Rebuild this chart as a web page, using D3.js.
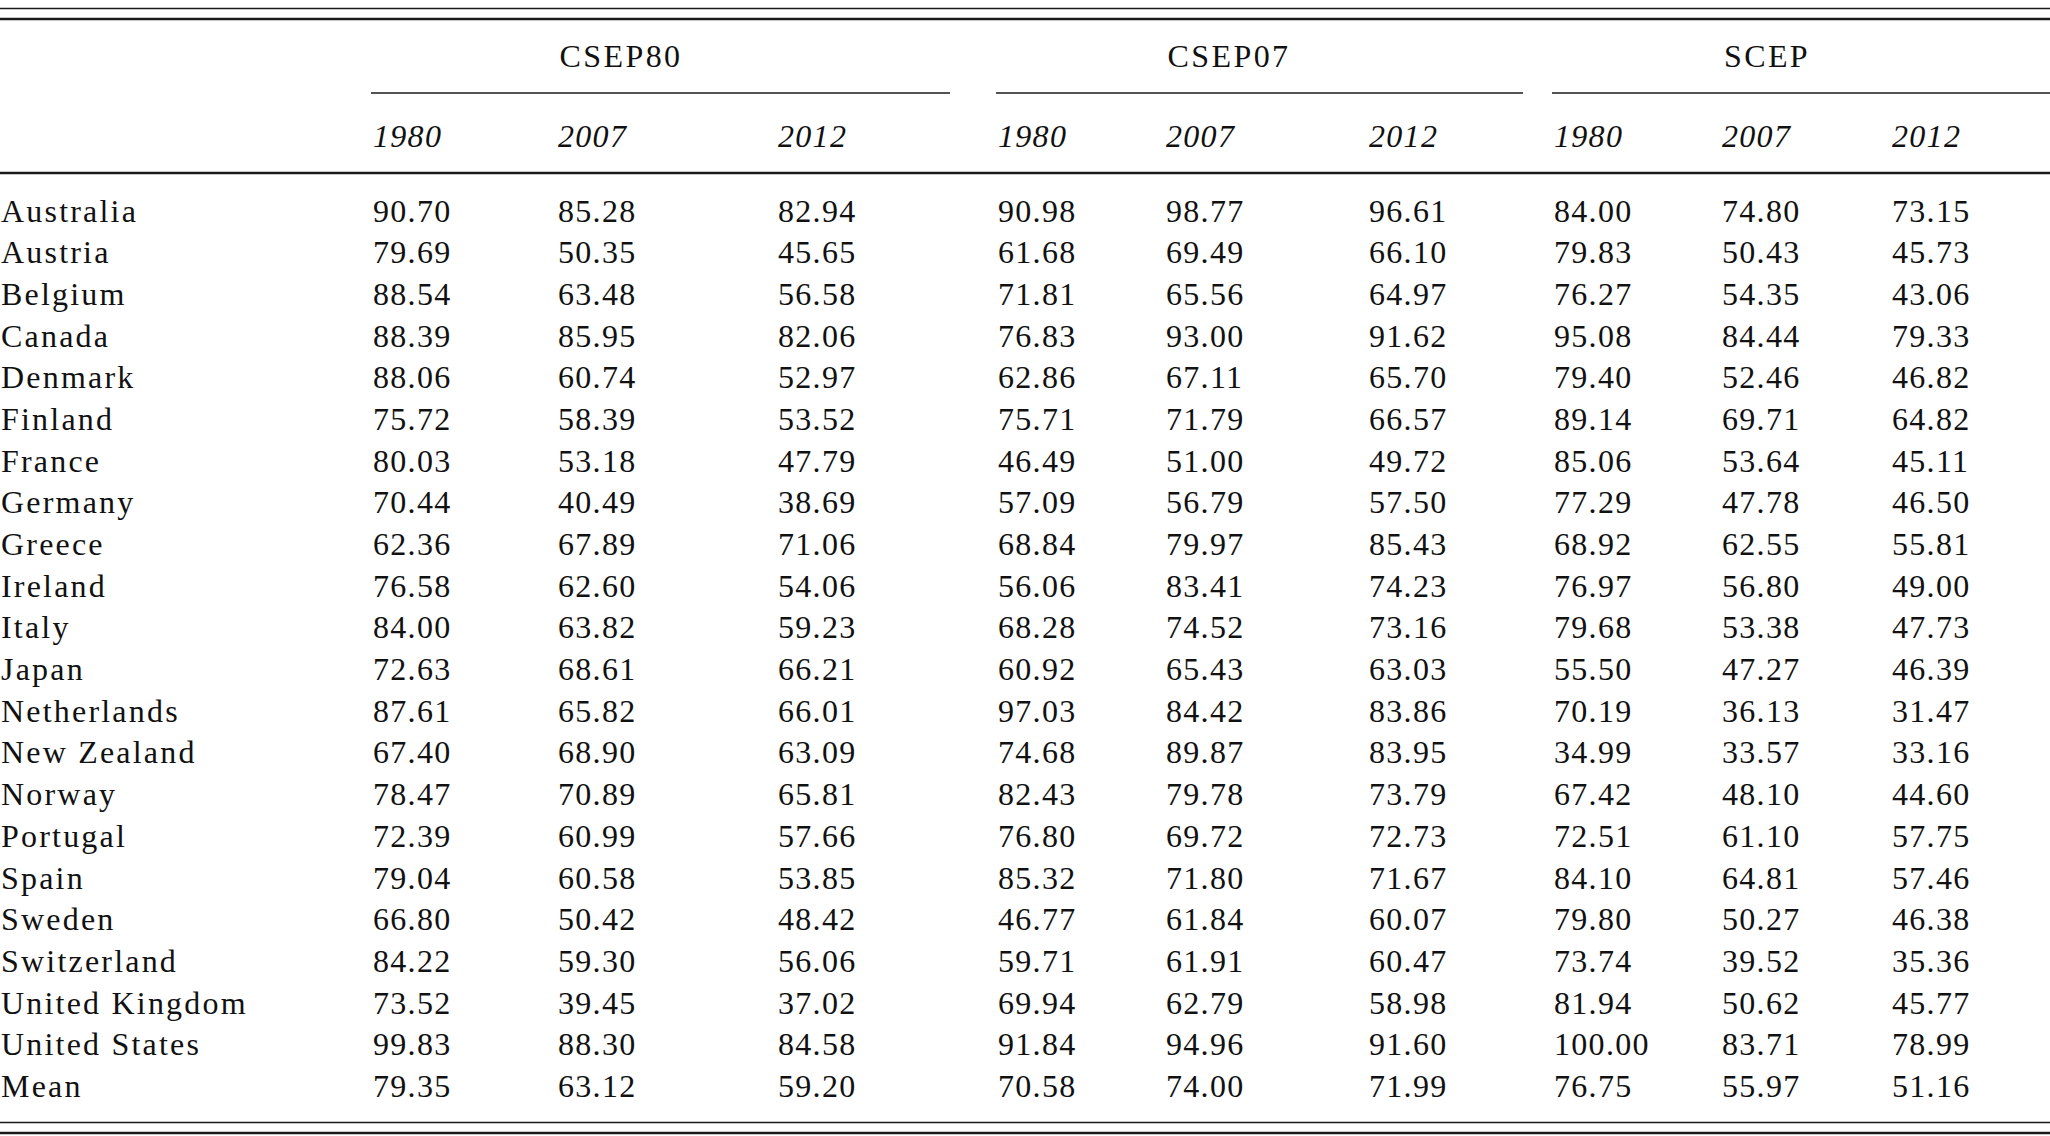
<!DOCTYPE html>
<html>
<head>
<meta charset="utf-8">
<script src="https://cdn.jsdelivr.net/npm/d3@7"></script>
<style>
  html, body { margin: 0; padding: 0; background: #fff; }
  svg text { font-family: "Liberation Serif", "Times New Roman", serif; font-size: 32px; fill: #111; letter-spacing: 1.3px; }
  .year { font-style: italic; }
  .country { letter-spacing: 2.2px; }
  .group { letter-spacing: 2.4px; }
</style>
</head>
<body>
<script>
// table data
var countries = ["Australia", "Austria", "Belgium", "Canada", "Denmark", "Finland", "France",
    "Germany", "Greece", "Ireland", "Italy", "Japan", "Netherlands", "New Zealand", "Norway",
    "Portugal", "Spain", "Sweden", "Switzerland", "United Kingdom", "United States", "Mean"];

var groups = ["CSEP80", "CSEP07", "SCEP"];
var years = ["1980", "2007", "2012"];

var csep80_1980 = [90.70, 79.69, 88.54, 88.39, 88.06, 75.72, 80.03, 70.44, 62.36, 76.58, 84.00,
    72.63, 87.61, 67.40, 78.47, 72.39, 79.04, 66.80, 84.22, 73.52, 99.83, 79.35];
var csep80_2007 = [85.28, 50.35, 63.48, 85.95, 60.74, 58.39, 53.18, 40.49, 67.89, 62.60, 63.82,
    68.61, 65.82, 68.90, 70.89, 60.99, 60.58, 50.42, 59.30, 39.45, 88.30, 63.12];
var csep80_2012 = [82.94, 45.65, 56.58, 82.06, 52.97, 53.52, 47.79, 38.69, 71.06, 54.06, 59.23,
    66.21, 66.01, 63.09, 65.81, 57.66, 53.85, 48.42, 56.06, 37.02, 84.58, 59.20];
var csep07_1980 = [90.98, 61.68, 71.81, 76.83, 62.86, 75.71, 46.49, 57.09, 68.84, 56.06, 68.28,
    60.92, 97.03, 74.68, 82.43, 76.80, 85.32, 46.77, 59.71, 69.94, 91.84, 70.58];
var csep07_2007 = [98.77, 69.49, 65.56, 93.00, 67.11, 71.79, 51.00, 56.79, 79.97, 83.41, 74.52,
    65.43, 84.42, 89.87, 79.78, 69.72, 71.80, 61.84, 61.91, 62.79, 94.96, 74.00];
var csep07_2012 = [96.61, 66.10, 64.97, 91.62, 65.70, 66.57, 49.72, 57.50, 85.43, 74.23, 73.16,
    63.03, 83.86, 83.95, 73.79, 72.73, 71.67, 60.07, 60.47, 58.98, 91.60, 71.99];
var scep_1980 = [84.00, 79.83, 76.27, 95.08, 79.40, 89.14, 85.06, 77.29, 68.92, 76.97, 79.68,
    55.50, 70.19, 34.99, 67.42, 72.51, 84.10, 79.80, 73.74, 81.94, 100.00, 76.75];
var scep_2007 = [74.80, 50.43, 54.35, 84.44, 52.46, 69.71, 53.64, 47.78, 62.55, 56.80, 53.38,
    47.27, 36.13, 33.57, 48.10, 61.10, 64.81, 50.27, 39.52, 50.62, 83.71, 55.97];
var scep_2012 = [73.15, 45.73, 43.06, 79.33, 46.82, 64.82, 45.11, 46.50, 55.81, 49.00, 47.73,
    46.39, 31.47, 33.16, 44.60, 57.75, 57.46, 46.38, 35.36, 45.77, 78.99, 51.16];

var columns = [csep80_1980, csep80_2007, csep80_2012,
    csep07_1980, csep07_2007, csep07_2012,
    scep_1980, scep_2007, scep_2012];

function drawTable() {
    var width = 2050,
        height = 1136;

    var svg = d3.select("body")
        .append("svg")
        .attr("width", width)
        .attr("height", height);

    // column left edges
    var x = d3.scaleOrdinal()
        .domain(d3.range(columns.length))
        .range([373, 558, 778, 998, 1166, 1369, 1554, 1722, 1892]);

    // row baselines
    var y = d3.scalePoint()
        .domain(countries)
        .range([221.5, 1097]);

    var groupCenter = d3.scaleOrdinal().domain(groups).range([621, 1229, 1767]);
    var groupRuleEnd = d3.scaleOrdinal().domain(groups).range([950, 1523, width]);

    var fmt = d3.format(".2f");

    function rule(y0, w) {
        svg.append("line")
            .attr("x1", 0).attr("x2", width)
            .attr("y1", y0).attr("y2", y0)
            .attr("stroke", "#1a1a1a")
            .attr("stroke-width", w);
    }

    rule(8.5, 1.6);
    rule(19, 2.5);
    rule(173, 2.4);
    rule(1122.5, 1.6);
    rule(1133, 2.5);

    // group headers and their rules
    groups.forEach(function (g, gi) {
        svg.append("text")
            .attr("class", "group")
            .attr("x", groupCenter(g))
            .attr("y", 67)
            .style("text-anchor", "middle")
            .text(g);

        svg.append("line")
            .attr("x1", x(gi * 3) - 2)
            .attr("x2", groupRuleEnd(g))
            .attr("y1", 93).attr("y2", 93)
            .attr("stroke", "#1a1a1a")
            .attr("stroke-width", 1.6);

        years.forEach(function (yr, yi) {
            svg.append("text")
                .attr("class", "year")
                .attr("x", x(gi * 3 + yi))
                .attr("y", 146.5)
                .text(yr);
        });
    });

    // row labels
    svg.selectAll("text.country")
        .data(countries)
        .enter().append("text")
        .attr("class", "country")
        .attr("x", 1)
        .attr("y", function (d) { return y(d); })
        .text(function (d) { return d; });

    // values
    columns.forEach(function (col, ci) {
        svg.selectAll("text.c" + ci)
            .data(col)
            .enter().append("text")
            .attr("class", "c" + ci)
            .attr("x", x(ci))
            .attr("y", function (d, i) { return y(countries[i]); })
            .text(function (d) { return fmt(d); });
    });
}

drawTable();
</script>
</body>
</html>
